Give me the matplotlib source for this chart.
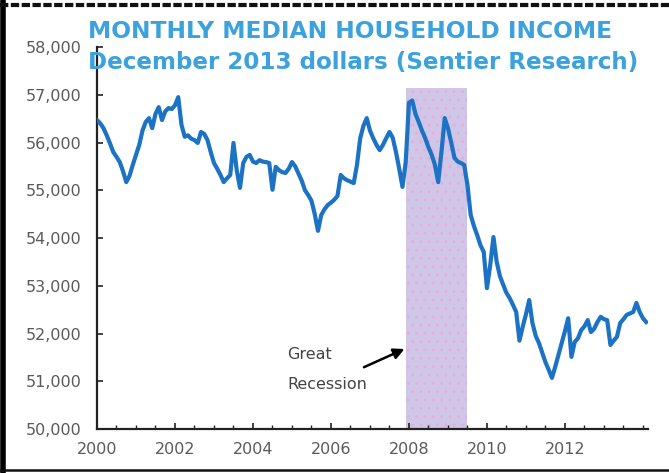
import matplotlib
matplotlib.use("Agg")
import matplotlib.pyplot as plt
import numpy as np
from matplotlib.ticker import FuncFormatter, MultipleLocator
from matplotlib.lines import Line2D

# monthly median household income, Jan 2000 .. Feb 2014 (Dec 2013 dollars)
income = [
    # 2000
    56470, 56400, 56300, 56150, 55980, 55800, 55700, 55590, 55400, 55170, 55300, 55530,
    # 2001
    55740, 55950, 56250, 56430, 56510, 56300, 56600, 56740, 56470, 56650, 56720, 56700,
    # 2002
    56780, 56950, 56370, 56120, 56150, 56080, 56050, 55990, 56220, 56180, 56050, 55800,
    # 2003
    55570, 55450, 55320, 55170, 55250, 55320, 55990, 55420, 55050, 55570, 55700, 55740,
    # 2004
    55600, 55570, 55630, 55600, 55590, 55570, 55010, 55490, 55420, 55380, 55360, 55450,
    # 2005
    55590, 55500, 55350, 55200, 55000, 54900, 54780, 54500, 54150, 54480, 54600, 54690,
    # 2006
    54740, 54800, 54880, 55320, 55250, 55210, 55180, 55150, 55530, 56090, 56350, 56510,
    # 2007
    56250, 56090, 55950, 55840, 55950, 56090, 56220, 56100, 55800, 55450, 55070, 55590,
    # 2008
    56830, 56880, 56600, 56430, 56250, 56090, 55900, 55740, 55530, 55170, 55800, 56510,
    # 2009
    56300, 56000, 55680, 55600, 55570, 55530, 55110, 54480, 54250, 54060, 53850, 53710,
    # 2010
    52950, 53430, 54020, 53500, 53200, 53020, 52850, 52740, 52600, 52450, 51850, 52140,
    # 2011
    52400, 52700, 52220, 51950, 51800, 51600, 51400, 51240, 51070, 51300, 51550, 51800,
    # 2012
    52050, 52320, 51510, 51820, 51900, 52070, 52150, 52280, 52030, 52100, 52240, 52350,
    # 2013
    52300, 52280, 51760, 51850, 51930, 52220, 52300, 52390, 52420, 52450, 52640, 52450,
    # 2014
    52320, 52240,
]
start_year = 2000
recession = (2007 + 11 / 12, 2009.5)   # Dec 2007 - Jun 2009
recession_top = 57150
year_ticks = [2000, 2002, 2004, 2006, 2008, 2010, 2012]

title1 = "MONTHLY MEDIAN HOUSEHOLD INCOME"
title2 = "December 2013 dollars (Sentier Research)"

months = np.arange(len(income))
t = start_year + months / 12

fig = plt.figure(figsize=(6.69, 4.73), dpi=100)
ax = fig.add_axes([97 / 669, 44 / 473, 551 / 669, 382 / 473])

ymin, ymax = 50000, 58000
ax.axvspan(recession[0], recession[1], ymin=0,
           ymax=(recession_top - ymin) / (ymax - ymin),
           facecolor="#cfc7e7", edgecolor="#efa9dc", hatch="..",
           linewidth=0, zorder=1)

ax.plot(t, income, color="#1c72c4", lw=3.0, zorder=3, solid_joinstyle="round")

ax.set_xlim(2000, 2014.13)
ax.set_ylim(ymin, ymax)

for s in ["top", "right"]:
    ax.spines[s].set_visible(False)
for s in ["left", "bottom"]:
    ax.spines[s].set_linewidth(1.6)
    ax.spines[s].set_color("#222222")

ax.yaxis.set_major_locator(MultipleLocator(1000))
ax.yaxis.set_major_formatter(FuncFormatter(lambda v, p: f"{int(v):,}"))
ax.set_xticks(year_ticks)
ax.set_xticklabels([str(y) for y in year_ticks])
ax.xaxis.set_minor_locator(MultipleLocator(0.5))

ax.tick_params(axis="both", which="major", direction="in", length=4,
               width=1.2, color="#222222", labelsize=11.5, labelcolor="#5a5a5a")
ax.tick_params(axis="x", which="minor", direction="in", length=3,
               width=1.0, color="#222222")
ax.tick_params(axis="y", pad=11)
ax.tick_params(axis="x", pad=9)

ax.annotate("", xy=(2007.95, 51700), xytext=(2006.78, 51270),
            arrowprops=dict(arrowstyle="-|>", color="black", lw=1.8,
                            mutation_scale=16), zorder=4)
ax.text(2004.87, 51250, "Great\nRecession", fontsize=11.5, color="#444444",
        ha="left", va="center", linespacing=2.2)

fig.text(88 / 669, 1 - 32 / 473, title1, color="#3ca2de", fontsize=16.8,
         fontweight="bold", ha="left", va="center")
fig.text(88 / 669, 1 - 63 / 473, title2, color="#3ca2de", fontsize=16.6,
         fontweight="bold", ha="left", va="center")

# frame around the picture
fig.add_artist(Line2D([0.004, 0.004], [0, 1], transform=fig.transFigure,
                      color="black", lw=4))
fig.add_artist(Line2D([0, 1], [1 - 5 / 473, 1 - 5 / 473], transform=fig.transFigure,
                      color="#111111", lw=3, linestyle=(0, (2, 0.6))))
fig.add_artist(Line2D([0, 1], [3 / 473, 3 / 473], transform=fig.transFigure,
                      color="#111111", lw=1.8))

fig.savefig("out.png", dpi=100)
